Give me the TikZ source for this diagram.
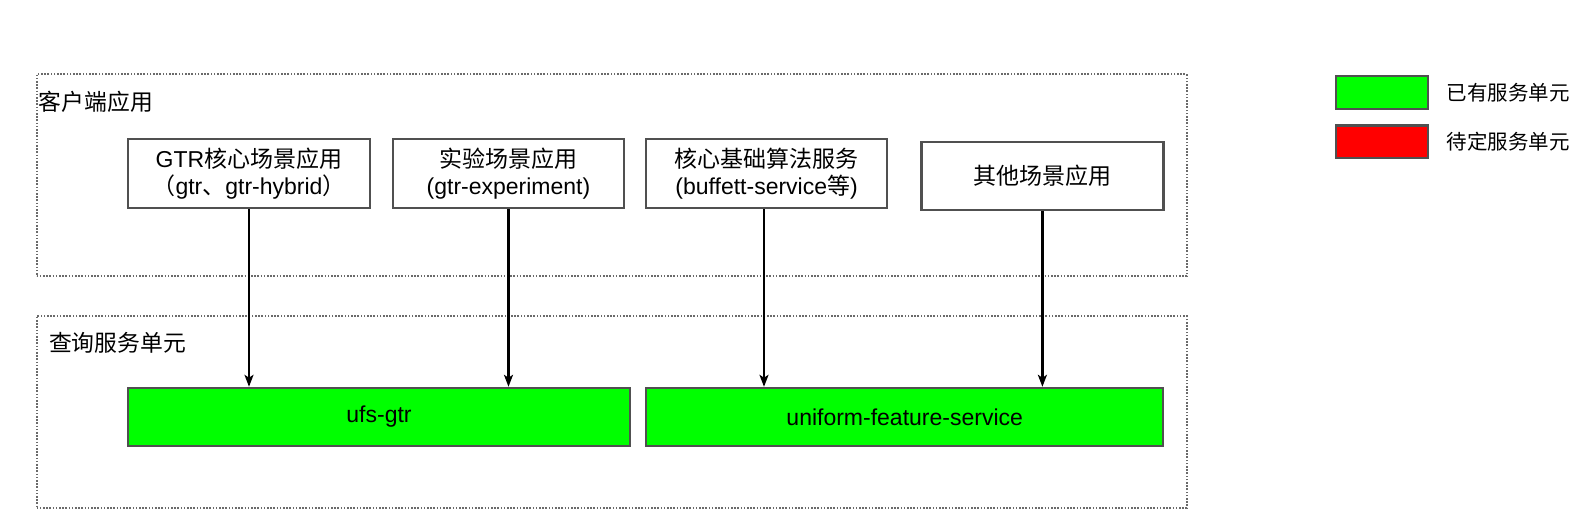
\documentclass[tikz,border=0pt]{standalone}
\usepackage{fontspec}
\setmainfont{Liberation Sans}
\newfontfamily\cjk{Noto Sans CJK SC}
\usetikzlibrary{arrows.meta}
\definecolor{boxline}{HTML}{505050}
\definecolor{dotline}{HTML}{6A6A6A}
\definecolor{okgreen}{HTML}{00FF00}
\definecolor{tbdred}{HTML}{FF0000}
\tikzset{
  outerbox/.style={draw=dotline, line width=1.8pt, dash pattern=on 1.6pt off 1.6pt, rectangle, inner sep=0pt},
  appbox/.style={draw=boxline, line width=2.4pt, fill=white, rectangle, inner sep=0pt, align=center,
    font=\fontsize{23pt}{27.5pt}\selectfont},
  svcbox/.style={draw=boxline, line width=2.4pt, fill=okgreen, rectangle, inner sep=0pt,
    font=\fontsize{23pt}{27.5pt}\selectfont},
  legbox/.style={draw=boxline, line width=2.4pt, rectangle, inner sep=0pt, minimum width=92pt, minimum height=32.5pt},
  grplabel/.style={anchor=west, inner sep=0pt, font=\fontsize{22.8pt}{27pt}\selectfont\cjk},
  leglabel/.style={anchor=west, inner sep=0pt, font=\fontsize{20.5pt}{25pt}\selectfont\cjk},
  arr/.style={draw=black, line width=2.5pt, -{Stealth[length=12pt,width=9pt,inset=3pt]}}
}
\begin{document}
\begin{tikzpicture}[x=1pt,y=-1pt]
\useasboundingbox (0,0) rectangle (1593,532);
% group boxes
\node[outerbox, minimum width=1150pt, minimum height=202pt] (grp1) at (611.6,175.3) {};
\node[outerbox, minimum width=1150pt, minimum height=192pt] (grp2) at (611.6,412) {};
\node[grplabel] (lbl1) at (38.6,101.6) {客户端应用};
\node[grplabel] (lbl2) at (48.8,342.4) {查询服务单元};
% client apps
\node[appbox, minimum width=241.8pt, minimum height=69pt] (A) at (249,173.7)
  {GTR{\cjk 核心场景应用}\\{\cjk （}gtr{\cjk 、}gtr-hybrid{\cjk ）}};
\node[appbox, minimum width=230.6pt, minimum height=69pt] (B) at (508.5,173.7)
  {{\cjk 实验场景应用}\\(gtr-experiment)};
\node[appbox, minimum width=240.8pt, minimum height=69pt] (C) at (766.6,173.7)
  {{\cjk 核心基础算法服务}\\(buffett-service{\cjk 等})};
\node[appbox, minimum width=241.8pt, minimum height=68pt] (D) at (1042.4,176.2)
  {{\cjk 其他场景应用}};
% services
\node[svcbox, minimum width=502pt, minimum height=58pt] (G) at (379,417) {ufs-gtr};
\node[svcbox, minimum width=517pt, minimum height=58pt] (U) at (904.7,417) {uniform-feature-service};
% arrows
\draw[arr] (A.south) -- (A.south |- G.north);
\draw[arr] (B.south) -- (B.south |- G.north);
\draw[arr] ([xshift=-2.6pt]C.south) -- ([xshift=-2.6pt]C.south |- U.north);
\draw[arr] (D.south) -- (D.south |- U.north);
% legend
\node[legbox, fill=okgreen] (L1) at (1382.2,92.5) {};
\node[legbox, fill=tbdred] (L2) at (1382.2,141.7) {};
\node[leglabel] (L1t) at (1446.7,92.5) {已有服务单元};
\node[leglabel] (L2t) at (1446.7,141.2) {待定服务单元};
\end{tikzpicture}
\end{document}
